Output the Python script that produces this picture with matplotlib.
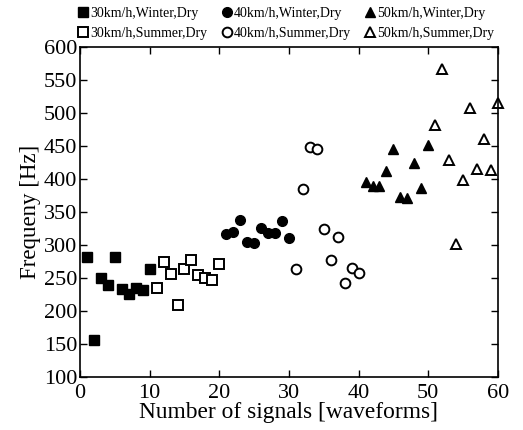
import matplotlib
matplotlib.use('Agg')
import matplotlib.pyplot as plt
import numpy as np

plt.rcParams['font.family'] = ['Liberation Serif', 'DejaVu Serif']

# 30 km/h
x_30w = [1, 2, 3, 4, 5, 6, 7, 8, 9, 10]
y_30w = [282, 156, 250, 240, 282, 234, 226, 235, 232, 264]
x_30s = [11, 12, 13, 14, 15, 16, 17, 18, 19, 20]
y_30s = [235, 274, 256, 209, 263, 277, 254, 250, 247, 271]
# 40 km/h
x_40w = [21, 22, 23, 24, 25, 26, 27, 28, 29, 30]
y_40w = [316, 320, 338, 305, 303, 326, 318, 318, 336, 311]
x_40s = [31, 32, 33, 34, 35, 36, 37, 38, 39, 40]
y_40s = [264, 385, 449, 446, 324, 278, 312, 242, 265, 257]
# 50 km/h
x_50w = [41, 42, 43, 44, 45, 46, 47, 48, 49, 50]
y_50w = [396, 390, 390, 412, 446, 372, 371, 424, 386, 452]
x_50s = [51, 52, 53, 54, 55, 56, 57, 58, 59, 60]
y_50s = [481, 566, 429, 301, 398, 507, 415, 461, 413, 515]

fig = plt.figure(figsize=(5.23, 4.30), dpi=100)
ax = fig.add_axes([0.153, 0.123, 0.799, 0.768])

ms = 7
kw_fill = dict(linestyle='none', color='black', markersize=ms, clip_on=False)
kw_open = dict(linestyle='none', markerfacecolor='white', markeredgecolor='black',
               markeredgewidth=1.4, markersize=ms, clip_on=False)

ax.plot(x_30w, y_30w, marker='s', label='30km/h,Winter,Dry', **kw_fill)
ax.plot(x_30s, y_30s, marker='s', label='30km/h,Summer,Dry', **kw_open)
ax.plot(x_40w, y_40w, marker='o', label='40km/h,Winter,Dry', **kw_fill)
ax.plot(x_40s, y_40s, marker='o', label='40km/h,Summer,Dry', **kw_open)
ax.plot(x_50w, y_50w, marker='^', label='50km/h,Winter,Dry', **kw_fill)
ax.plot(x_50s, y_50s, marker='^', label='50km/h,Summer,Dry', **kw_open)

ax.set_xlim(0, 60)
ax.set_ylim(100, 600)
ax.set_xticks(np.arange(0, 61, 10))
ax.set_yticks(np.arange(100, 601, 50))
ax.tick_params(direction='in', top=True, right=True, labelsize=16, length=5, width=1)
ax.tick_params(axis='x', pad=5)
ax.tick_params(axis='y', pad=2)
for s in ax.spines.values():
    s.set_linewidth(1.2)

ax.set_xlabel('Number of signals [waveforms]', fontsize=16.8, labelpad=-1)
ax.set_ylabel('Frequeny [Hz]', fontsize=16.5, labelpad=2)

ax.legend(loc='lower center', bbox_to_anchor=(0.495, 1.0), ncol=3, frameon=False,
          fontsize=10, handlelength=0.6, handletextpad=0.2, columnspacing=1.1,
          labelspacing=0.5, borderaxespad=0.1, markerscale=1.0)

fig.savefig('out.png', dpi=100)
